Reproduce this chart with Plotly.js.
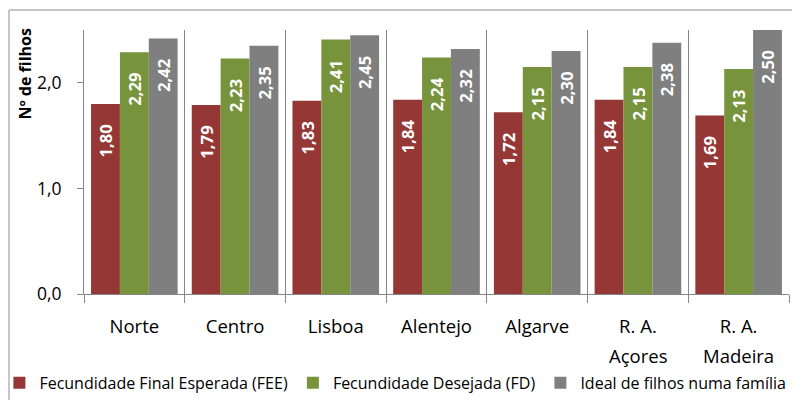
<!DOCTYPE html>
<html>
<head>
<meta charset="utf-8">
<script src="https://cdn.plot.ly/plotly-3.0.1.min.js"></script>
<style>html,body{margin:0;padding:0;background:#fff;}#chart{width:792px;height:400px;}</style>
</head>
<body>
<div id="chart"></div>
<script>
var categories = ["Norte", "Centro", "Lisboa", "Alentejo", "Algarve", "R. A. Açores", "R. A. Madeira"];
var catLine1 = ["Norte", "Centro", "Lisboa", "Alentejo", "Algarve", "R. A.", "R. A."];
var catLine2 = ["", "", "", "", "", "Açores", "Madeira"];
var seriesNames = ["Fecundidade Final Esperada (FEE)", "Fecundidade Desejada (FD)", "Ideal de filhos numa família"];
var fee = [1.80, 1.79, 1.83, 1.84, 1.72, 1.84, 1.69];
var fd = [2.29, 2.23, 2.41, 2.24, 2.15, 2.15, 2.13];
var ideal = [2.42, 2.35, 2.45, 2.32, 2.30, 2.38, 2.50];
var yTicks = [0, 1, 2];

var FONT = "Open Sans, sans-serif";
var colors = ["#953735", "#77933C", "#7F7F7F"];
var values = [fee, fd, ideal];

var traces = values.map(function (v, i) {
  return {
    type: "bar",
    name: seriesNames[i],
    x: categories,
    y: v,
    marker: {color: colors[i], line: {width: 0}},
    texttemplate: "%{y:.2f}\u00a0\u00a0\u00a0\u00a0",
    textposition: "inside",
    insidetextanchor: "end",
    textangle: -90,
    insidetextfont: {family: FONT, size: 17.5, color: "#ffffff", weight: "bold"},
    hoverinfo: "skip",
    cliponaxis: false
  };
});

var annotations = [{
  text: "<b>Nº de filhos</b>",
  xref: "paper", yref: "paper",
  x: -0.0837, y: 0.835,
  textangle: -90, showarrow: false,
  font: {family: FONT, size: 16, color: "#000"},
  xanchor: "center", yanchor: "middle"
}];
categories.forEach(function (c, i) {
  if (catLine2[i]) {
    annotations.push({
      text: catLine2[i], xref: "x", yref: "paper",
      x: c, y: -0.233, showarrow: false,
      font: {family: FONT, size: 18.5, color: "#000"},
      xanchor: "center", yanchor: "middle"
    });
  }
});

var layout = {
  width: 792, height: 400,
  margin: {l: 84, r: 3, t: 30, b: 106, pad: 0, autoexpand: false},
  paper_bgcolor: "#fff", plot_bgcolor: "#fff",
  separators: ",.",
  barmode: "group",
  bargap: 0.14, bargroupgap: 0,
  showlegend: true,
  legend: {
    orientation: "h", x: -0.12, xanchor: "left", y: -0.337, yanchor: "middle",
    bgcolor: "rgba(0,0,0,0)",
    font: {family: FONT, size: 16, color: "#000"},
    itemwidth: 30, tracegroupgap: 0, traceorder: "normal"
  },
  xaxis: {
    type: "category",
    tickmode: "array", tickvals: categories, ticktext: catLine1,
    tickson: "boundaries",
    ticks: "outside", ticklen: 8, tickcolor: "#868686", tickwidth: 1,
    showgrid: true, gridcolor: "#868686", gridwidth: 1,
    showline: true, linecolor: "#868686", linewidth: 1,
    tickfont: {family: FONT, size: 18.5, color: "#000"},
    ticklabelstandoff: 16,
    automargin: false,
    zeroline: false
  },
  yaxis: {
    range: [0, 2.5],
    tickmode: "array", tickvals: yTicks, tickformat: ".1f",
    ticks: "outside", ticklen: 6, tickcolor: "#868686", tickwidth: 1,
    showgrid: false, zeroline: false,
    showline: true, linecolor: "#868686", linewidth: 1,
    tickfont: {family: FONT, size: 17.5, color: "#000"},
    ticklabelstandoff: 12,
    automargin: false
  },
  shapes: [
    {type: "line", xref: "paper", yref: "paper", x0: -0.1064, x1: 1.01, y0: 1.0758, y1: 1.0758, line: {color: "#b4b4b4", width: 1.5}},
    {type: "line", xref: "paper", yref: "paper", x0: -0.1064, x1: -0.1064, y0: -0.42, y1: 1.0758, line: {color: "#b4b4b4", width: 1.5}}
  ],
  annotations: annotations
};

Plotly.newPlot("chart", traces, layout, {displayModeBar: false, staticPlot: true});
</script>
</body>
</html>
